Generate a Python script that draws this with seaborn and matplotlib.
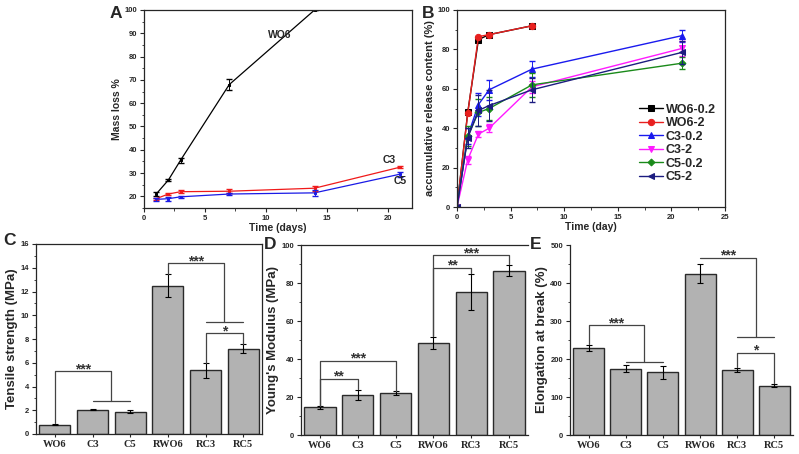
import matplotlib
matplotlib.use('Agg')
import matplotlib.pyplot as plt
import seaborn as sns
from matplotlib.ticker import MultipleLocator

# A: mass loss over time
days_wo6 = [1, 2, 3, 7, 14]
loss_wo6 = [21.0, 27.0, 35.5, 68.0, 100.0]
err_wo6 = [1.0, 0.4, 1.0, 2.5, 0.0]
days_c = [1, 2, 3, 7, 14, 21]
loss_c3 = [19.0, 21.0, 22.0, 22.2, 23.5, 32.5]
err_c3 = [0.5, 0.4, 0.6, 0.8, 1.0, 0.4]
loss_c5 = [18.7, 19.0, 19.8, 21.0, 21.5, 29.5]
err_c5 = [0.5, 0.8, 0.4, 0.3, 1.2, 1.0]

# B: accumulative release
rel_days_wo6 = [0, 1, 2, 3, 7]
rel_days_c = [0, 1, 2, 3, 7, 21]
rel_wo6_02 = [0, 48.0, 85.0, 87.5, 92.0]
rel_wo6_2 = [0, 47.5, 86.5, 87.5, 92.0]
rel_c3_02 = [0, 36.0, 52.0, 59.5, 70.0, 87.0]
err_c3_02 = [0, 4.0, 6.0, 5.0, 4.0, 3.0]
rel_c3_2 = [0, 24.0, 37.0, 40.0, 61.0, 80.5]
err_c3_2 = [0, 2.0, 1.5, 2.0, 3.0, 4.0]
rel_c5_02 = [0, 36.0, 48.0, 50.0, 62.0, 73.0]
err_c5_02 = [0, 5.0, 7.0, 6.0, 6.0, 3.0]
rel_c5_2 = [0, 35.0, 49.0, 51.5, 59.5, 78.5]
err_c5_2 = [0, 5.0, 8.0, 8.0, 6.0, 6.0]

# C-E: mechanical properties
groups = ['WO6', 'C3', 'C5', 'RWO6', 'RC3', 'RC5']
tensile = [0.8, 2.05, 1.88, 12.5, 5.35, 7.2]
tensile_err = [0.05, 0.05, 0.1, 0.95, 0.6, 0.35]
modulus = [14.5, 21.0, 22.0, 48.5, 75.5, 86.5]
modulus_err = [0.6, 2.5, 1.0, 3.0, 9.5, 3.0]
elong = [230, 175, 165, 425, 172, 130]
elong_err = [8, 10, 17, 25, 5, 4]

sns.set_style('ticks')
plt.rcParams['font.family'] = ['Liberation Sans', 'DejaVu Sans']
plt.rcParams['font.weight'] = 'bold'

W, H = 799, 454
fig = plt.figure(figsize=(W / 100, H / 100), dpi=100)


def px_axes(left, top, right, bottom):
    return fig.add_axes([left / W, 1 - bottom / H, (right - left) / W, (bottom - top) / H])


def style_ticks(ax, size=5.5):
    ax.tick_params(axis='both', which='major', direction='out', length=3, width=0.8,
                   labelsize=size, pad=2)
    ax.tick_params(axis='both', which='minor', direction='out', length=1.8, width=0.6)
    for lab in ax.get_xticklabels() + ax.get_yticklabels():
        lab.set_fontweight('bold')
    for sp in ax.spines.values():
        sp.set_linewidth(0.9)


# ---------- Panel A ----------
axA = px_axes(144, 10, 412, 208)
sns.lineplot(x=days_wo6, y=loss_wo6, ax=axA, color='black', lw=0.9, marker='s', ms=2,
             mec='black')
sns.lineplot(x=days_c, y=loss_c3, ax=axA, color='#f01a1a', lw=0.9, marker='s', ms=2,
             mec='#f01a1a')
sns.lineplot(x=days_c, y=loss_c5, ax=axA, color='#1a1ae6', lw=0.9, marker='s', ms=2,
             mec='#1a1ae6')
axA.errorbar(days_wo6, loss_wo6, yerr=err_wo6, fmt='none', ecolor='black', elinewidth=0.7, capsize=2)
axA.errorbar(days_c, loss_c3, yerr=err_c3, fmt='none', ecolor='#f01a1a', elinewidth=0.7, capsize=2)
axA.errorbar(days_c, loss_c5, yerr=err_c5, fmt='none', ecolor='#1a1ae6', elinewidth=0.7, capsize=2)
axA.set_xlim(0, 22)
axA.set_ylim(15, 100)
axA.xaxis.set_major_locator(MultipleLocator(5))
axA.xaxis.set_minor_locator(MultipleLocator(2.5))
axA.yaxis.set_minor_locator(MultipleLocator(5))
axA.set_yticks(range(20, 101, 10))
axA.set_xlabel('Time (days)', fontsize=7.5, fontweight='bold', labelpad=1)
axA.set_ylabel('Mass loss %', fontsize=7.5, fontweight='bold', labelpad=2)
axA.text(10.2, 88, 'WO6', fontsize=7.5, fontweight='bold')
axA.text(19.6, 34.2, 'C3', fontsize=7.5, fontweight='bold')
axA.text(20.5, 25.3, 'C5', fontsize=7.5, fontweight='bold')
style_ticks(axA)

# ---------- Panel B ----------
axB = px_axes(457, 10, 725, 207)
b_series = [
    ('WO6-0.2', rel_days_wo6, rel_wo6_02, None, 'black', 's'),
    ('WO6-2', rel_days_wo6, rel_wo6_2, None, '#e8201f', 'o'),
    ('C3-0.2', rel_days_c, rel_c3_02, err_c3_02, '#1a1aee', '^'),
    ('C3-2', rel_days_c, rel_c3_2, err_c3_2, '#ff1aff', 'v'),
    ('C5-0.2', rel_days_c, rel_c5_02, err_c5_02, '#1a8a1a', 'D'),
    ('C5-2', rel_days_c, rel_c5_2, err_c5_2, '#1c1c80', '<'),
]
for name, xs, ys, es, col, mk in b_series:
    sns.lineplot(x=xs, y=ys, ax=axB, color=col, lw=1.0, marker=mk,
                 ms=3.5 if mk == 'D' else 4.5, mec=col, label=name)
    if es is not None:
        axB.errorbar(xs, ys, yerr=es, fmt='none', ecolor=col, elinewidth=0.7, capsize=2)
axB.set_xlim(0, 25)
axB.set_ylim(0, 100)
axB.xaxis.set_major_locator(MultipleLocator(5))
axB.xaxis.set_minor_locator(MultipleLocator(2.5))
axB.yaxis.set_major_locator(MultipleLocator(20))
axB.yaxis.set_minor_locator(MultipleLocator(10))
axB.set_xlabel('Time (day)', fontsize=7.5, fontweight='bold', labelpad=1)
axB.set_ylabel('accumulative release content (%)', fontsize=8, fontweight='bold', labelpad=2)
axB.legend(loc='upper left', bbox_to_anchor=(0.66, 0.55), frameon=False,
           prop={'size': 9, 'weight': 'bold'}, handlelength=1.9,
           labelspacing=0.12, borderaxespad=0, handletextpad=0.25)
style_ticks(axB)


# ---------- Bar panels ----------
def bar_panel(ax, vals, errs, ymax, major, minor, ylabel):
    sns.barplot(x=groups, y=vals, ax=ax, color='#b2b2b2', saturation=1,
                edgecolor='#2a2a2a', linewidth=1.0, width=0.83, errorbar=None)
    ax.errorbar(range(len(groups)), vals, yerr=errs, fmt='none', ecolor='black',
                elinewidth=0.8, capsize=2.2, capthick=0.8)
    ax.set_xlim(-0.5, 5.5)
    ax.set_ylim(0, ymax)
    ax.yaxis.set_major_locator(MultipleLocator(major))
    ax.yaxis.set_minor_locator(MultipleLocator(minor))
    ax.set_ylabel(ylabel, fontsize=9.5, fontweight='bold', labelpad=2)
    ax.set_xlabel('')
    style_ticks(ax)
    ax.tick_params(axis='x', length=2.5)
    for lab in ax.get_xticklabels():
        lab.set_fontfamily('Liberation Serif')
        lab.set_fontsize(7.5)
        lab.set_fontweight('bold')


def bracket(ax, x1, x2, ytop, y1, y2, text):
    ax.plot([x1, x1, x2, x2], [y1, ytop, ytop, y2], color='#444444', lw=0.9)
    if text:
        # asterisks sit high in the em box, so pull the baseline a bit below the line
        ax.annotate(text, ((x1 + x2) / 2, ytop), xytext=(0, -2), textcoords='offset pixels',
                    ha='center', va='baseline', fontsize=10, color='#333333')


def hline(ax, x1, x2, y):
    ax.plot([x1, x2], [y, y], color='#444444', lw=0.9)


axC = px_axes(36, 244, 262, 434)
bar_panel(axC, tensile, tensile_err, 16, 2, 1, 'Tensile strength (MPa)')
bracket(axC, 0, 1.5, 5.3, 0.95, 2.75, '***')
hline(axC, 1, 2, 2.75)
bracket(axC, 3, 4.5, 14.4, 13.5, 9.45, '***')
hline(axC, 4, 5, 9.45)
bracket(axC, 4, 5, 8.5, 6.0, 7.6, '*')

axD = px_axes(301, 245, 528, 435)
bar_panel(axD, modulus, modulus_err, 100, 20, 10, "Young's Modulus (MPa)")
axD.spines['right'].set_visible(False)
bracket(axD, 0, 1, 29.5, 15.2, 24.0, '**')
bracket(axD, 0, 2, 39.0, 15.2, 23.2, '***')
bracket(axD, 3, 4, 88.0, 52.0, 85.5, '**')
bracket(axD, 3, 5, 94.7, 52.0, 90.0, '***')

axE = px_axes(570, 245, 793, 435)
bar_panel(axE, elong, elong_err, 500, 100, 50, 'Elongation at break (%)')
axE.spines['right'].set_visible(False)
axE.spines['top'].set_visible(False)
bracket(axE, 0, 1.5, 289, 240, 193, '***')
hline(axE, 1, 2, 193)
bracket(axE, 3, 4.5, 466, 466, 258, '***')
hline(axE, 4, 5, 258)
bracket(axE, 4, 5, 216, 178, 136, '*')

# panel letters
for letter, xp, yp in [('A', 110, 18), ('B', 422, 18), ('C', 3, 245), ('D', 264, 249), ('E', 530, 249)]:
    fig.text(xp / W, 1 - yp / H, letter, fontsize=12.5, fontweight='bold', ha='left', va='baseline')

fig.savefig('out.png', dpi=100)
